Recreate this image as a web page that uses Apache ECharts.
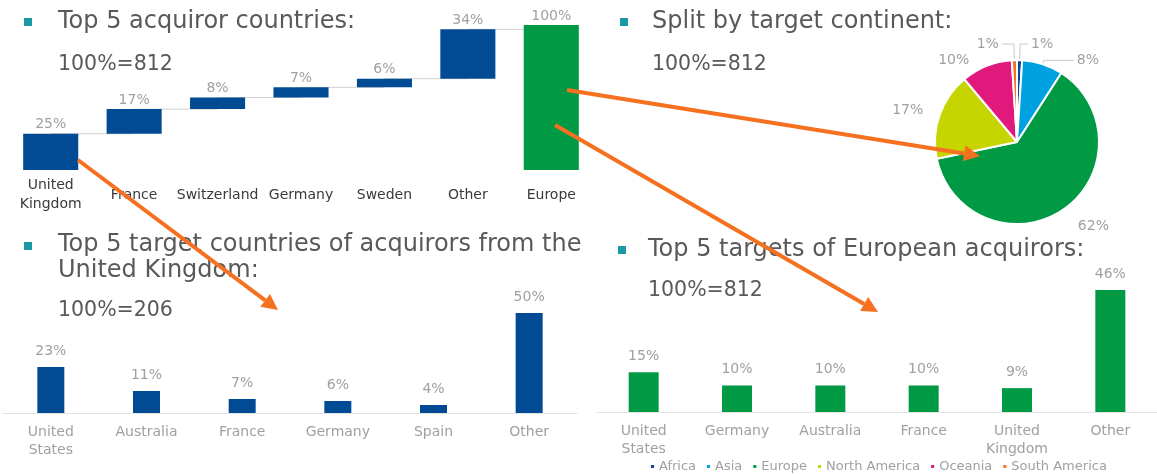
<!DOCTYPE html>
<html>
<head>
<meta charset="utf-8">
<script src="https://cdn.jsdelivr.net/npm/echarts@6/dist/echarts.min.js"></script>
<style>
html, body { margin: 0; padding: 0; background: #fff; }
#main { width: 1157px; height: 474px; }
</style>
</head>
<body>
<div id="main"></div>
<script>
// top left: waterfall of acquiror countries
var acqCountries = ['United\nKingdom', 'France', 'Switzerland', 'Germany', 'Sweden', 'Other', 'Europe'];
var acqShares = [25, 17, 8, 7, 6, 34, 100];

// top right: split by target continent
var continents = ['Africa', 'Asia', 'Europe', 'North America', 'Oceania', 'South America'];
var continentShares = [1, 8, 62, 17, 10, 1];
var continentColors = ['#0a4a95', '#00a1e0', '#009a44', '#c6d400', '#e2197c', '#f4721f'];

// bottom left: targets of UK acquirors
var ukTargets = ['United\nStates', 'Australia', 'France', 'Germany', 'Spain', 'Other'];
var ukShares = [23, 11, 7, 6, 4, 50];

// bottom right: targets of European acquirors
var euTargets = ['United\nStates', 'Germany', 'Australia', 'France', 'United\nKingdom', 'Other'];
var euShares = [15, 10, 10, 10, 9, 46];

var BLUE = '#004b93';
var GREEN = '#009a44';
var GREY = '#a0a0a0';
var TITLE = '#595959';
var TEAL = '#1b9aa6';
var ORANGE = '#f5701f';

var chart = echarts.init(document.getElementById('main'));

// base of each floating bar and the running top for the connector
var acqBase = [];
var acqTop = [];
var run = 0;
for (var i = 0; i < acqShares.length; i++) {
	if (i === acqShares.length - 1) {
		acqBase.push(0);
		acqTop.push(acqShares[i]);
	} else {
		acqBase.push(run);
		run += acqShares[i];
		acqTop.push(run);
	}
}

// label line tweaks per pie slice (Africa .. South America)
var pieLines = [
	{ show: true, length: 16, length2: 8 },
	{ show: true, length: 4, length2: 30 },
	{ show: false, length: 20, length2: 0 },
	{ show: false, length: 14, length2: 0 },
	{ show: false, length: 6, length2: 12 },
	{ show: true, length: 16, length2: 12 }
];

function heading(text, left, top, size) {
	return {
		text: text, left: left, top: top, padding: 0,
		textStyle: { color: TITLE, fontSize: size, fontWeight: 'normal', fontFamily: 'DejaVu Sans', lineHeight: 26 }
	};
}

function bullet(x, y) {
	return { type: 'rect', left: x, top: y, shape: { width: 8, height: 8 }, style: { fill: TEAL } };
}

// orange arrow from (x1,y1) to tip (x2,y2)
function arrow(x1, y1, x2, y2) {
	var a = Math.atan2(y2 - y1, x2 - x1);
	var len = 16, half = 8;
	var bx = x2 - len * Math.cos(a), by = y2 - len * Math.sin(a);
	var px = -Math.sin(a) * half, py = Math.cos(a) * half;
	return [
		{ type: 'line', z: 100, shape: { x1: x1, y1: y1, x2: bx, y2: by }, style: { stroke: ORANGE, lineWidth: 4 } },
		{ type: 'polygon', z: 100, shape: { points: [[x2, y2], [bx + px, by + py], [bx - px, by - py]] }, style: { fill: ORANGE } }
	];
}

var catAxisLabel = { color: GREY, fontSize: 14, fontFamily: 'DejaVu Sans', margin: 10, lineHeight: 18 };

var option = {
	animation: false,
	title: [
		heading('Top 5 acquiror countries:', 58, 9, 24),
		heading('100%=812', 58, 52, 20.5),
		heading('Split by target continent:', 652, 9, 24),
		heading('100%=812', 652, 52, 20.5),
		heading('Top 5 target countries of acquirors from the\nUnited Kingdom:', 58, 232, 24),
		heading('100%=206', 58, 298, 20.5),
		heading('Top 5 targets of European acquirors:', 648, 237, 24),
		heading('100%=812', 648, 278, 20.5)
	],
	legend: {
		data: continents,
		left: 649, top: 460, padding: 0,
		icon: 'rect', itemWidth: 5, itemHeight: 5, itemGap: 9,
		textStyle: { color: GREY, fontSize: 13, fontFamily: 'DejaVu Sans', padding: [0, 0, 0, -1] }
	},
	grid: [
		{ left: 9, width: 584, top: 25, height: 145 },
		{ left: 3, width: 574, top: 313, height: 100 },
		{ left: 597, width: 560, top: 290, height: 122 }
	],
	xAxis: [
		{
			gridIndex: 0, type: 'category', data: acqCountries,
			axisLine: { show: false }, axisTick: { show: false },
			axisLabel: { color: '#3a3a3a', fontSize: 14, fontFamily: 'DejaVu Sans', margin: 25, lineHeight: 19, verticalAlign: 'middle', interval: 0 }
		},
		{
			gridIndex: 1, type: 'category', data: ukTargets,
			axisLine: { lineStyle: { color: '#e3e3e3' } }, axisTick: { show: false },
			axisLabel: Object.assign({ interval: 0 }, catAxisLabel)
		},
		{
			gridIndex: 2, type: 'category', data: euTargets,
			axisLine: { lineStyle: { color: '#e3e3e3' } }, axisTick: { show: false },
			axisLabel: Object.assign({ interval: 0 }, catAxisLabel)
		}
	],
	yAxis: [
		{ gridIndex: 0, type: 'value', min: 0, max: 100, show: false },
		{ gridIndex: 1, type: 'value', min: 0, max: 50, show: false },
		{ gridIndex: 2, type: 'value', min: 0, max: 46, show: false }
	],
	series: [
		// connector lines of the waterfall
		{
			type: 'line', xAxisIndex: 0, yAxisIndex: 0, data: acqTop, step: 'end',
			symbol: 'none', lineStyle: { color: '#d0d0d0', width: 1 }, z: 1, silent: true
		},
		{
			type: 'bar', xAxisIndex: 0, yAxisIndex: 0, stack: 'wf', data: acqBase,
			barWidth: '66%', itemStyle: { color: 'transparent' }, z: 2, silent: true
		},
		{
			type: 'bar', xAxisIndex: 0, yAxisIndex: 0, stack: 'wf', data: acqShares,
			barWidth: '66%', z: 3,
			itemStyle: {
				color: function (p) { return p.dataIndex === acqShares.length - 1 ? GREEN : BLUE; }
			},
			label: { show: true, position: 'top', formatter: '{c}%', color: GREY, fontSize: 14, fontFamily: 'DejaVu Sans', distance: 2 }
		},
		{
			type: 'pie', name: 'Continent', center: [1017, 142], radius: 82,
			startAngle: 90, clockwise: true, avoidLabelOverlap: false,
			data: continents.map(function (n, k) {
				return {
					name: n, value: continentShares[k],
					itemStyle: { color: continentColors[k] },
					labelLine: pieLines[k]
				};
			}),
			itemStyle: { borderColor: '#fff', borderWidth: 2 },
			label: { formatter: '{c}%', color: GREY, fontSize: 14, fontFamily: 'DejaVu Sans', distanceToLabelLine: 3 },
			labelLine: { lineStyle: { color: '#c8c8c8' } }
		},
		{
			type: 'bar', xAxisIndex: 1, yAxisIndex: 1, data: ukShares, barWidth: 27,
			itemStyle: { color: BLUE },
			label: { show: true, position: 'top', formatter: '{c}%', color: GREY, fontSize: 14, fontFamily: 'DejaVu Sans', distance: 9 }
		},
		{
			type: 'bar', xAxisIndex: 2, yAxisIndex: 2, data: euShares, barWidth: 30,
			itemStyle: { color: GREEN },
			label: { show: true, position: 'top', formatter: '{c}%', color: GREY, fontSize: 14, fontFamily: 'DejaVu Sans', distance: 9 }
		}
	],
	graphic: [
		bullet(24, 18),
		bullet(620, 18),
		bullet(24, 242),
		bullet(618, 246)
	].concat(
		arrow(567, 90, 980, 156),
		arrow(555, 125, 878, 312),
		arrow(78, 160, 278, 310)
	)
};

chart.setOption(option);
</script>
</body>
</html>
